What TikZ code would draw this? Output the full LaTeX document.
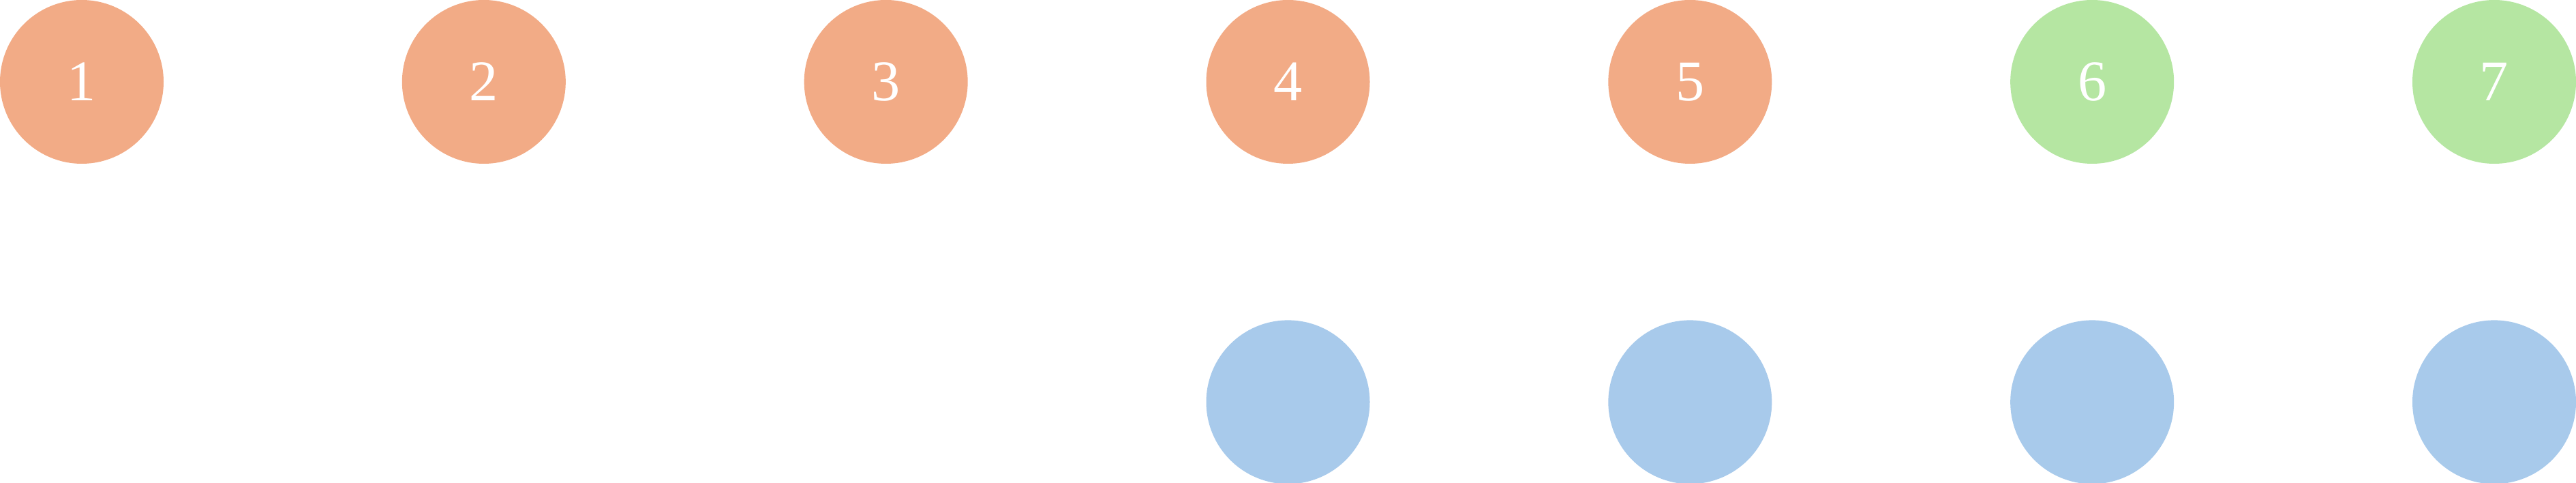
\documentclass[tikz,border=0pt]{standalone}
\usepackage{fontspec}
\setmainfont{Liberation Serif}
\usetikzlibrary{positioning}
\definecolor{stepsalmon}{HTML}{F2AB86}
\definecolor{stepgreen}{HTML}{B5E6A2}
\definecolor{stepblue}{HTML}{A8CAEB}

\begin{document}
\begin{tikzpicture}[
  disc/.style={
    circle, inner sep=0pt, minimum size=24mm,
    text=white, font=\fontsize{24}{24}\selectfont
  },
  donedisc/.style={disc, fill=stepsalmon},
  nextdisc/.style={disc, fill=stepgreen},
  slotdisc/.style={disc, fill=stepblue},
]
  \useasboundingbox (0,0) rectangle (37.79,7.08);

  % Fila superior: pasos numerados
  \foreach \i in {1,...,5} {
    \node[donedisc] (top\i) at ({1.2 + (\i-1)*5.8983}, 5.88) {\i};
  }
  \foreach \i in {6,7} {
    \node[nextdisc] (top\i) at ({1.2 + (\i-1)*5.8983}, 5.88) {\i};
  }

  % Fila inferior: huecos bajo los pasos 4 a 7
  \foreach \i in {4,...,7} {
    \node[slotdisc, below=22.8mm of top\i] (bot\i) {};
  }

\end{tikzpicture}
\end{document}
